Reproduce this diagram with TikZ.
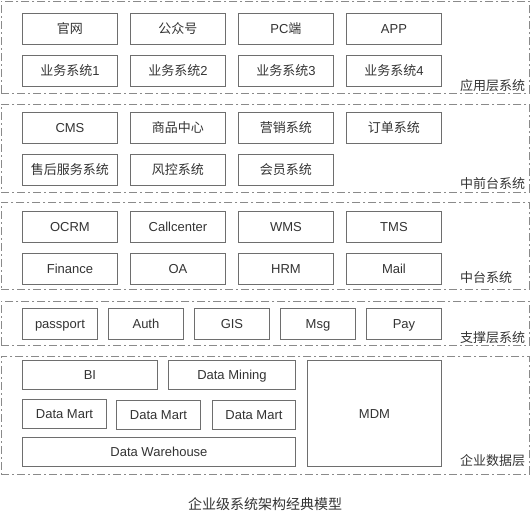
\documentclass[tikz,border=0pt]{standalone}
\usepackage{fontspec}
\setmainfont{Liberation Sans}
\newfontfamily\cjk{Noto Sans CJK SC}
\newcommand{\zh}[1]{{\cjk #1}}
\definecolor{txt}{HTML}{333333}
\definecolor{bord}{HTML}{6E6E6E}
\definecolor{dashc}{HTML}{8A8A8A}
\begin{document}
\begin{tikzpicture}[x=1pt,y=-1pt,
  box/.style={draw=bord, line width=0.9pt, rectangle, anchor=north west, inner sep=0pt,
    text=txt, font=\fontsize{13}{15}\selectfont, text height=10.5pt, text depth=1.2pt},
  wide/.style={box, minimum width=95pt, minimum height=31pt},
  small/.style={box, minimum width=75pt, minimum height=31pt},
  layer/.style={draw=dashc, line width=0.8pt, dash pattern=on 8pt off 3pt on 2pt off 3pt,
    rectangle, anchor=north west, inner sep=0pt, minimum width=528pt},
  lab/.style={anchor=west, inner sep=0pt, text=txt, font=\fontsize{13}{15}\selectfont},
]
\useasboundingbox (0,0) rectangle (530,513);
\clip (0,0) rectangle (530,513);
% layers
\node[layer, minimum height=92pt] (L1) at (1,1) {};
\node[layer, minimum height=88pt] (L2) at (1,104) {};
\node[layer, minimum height=87pt] (L3) at (1,202) {};
\node[layer, minimum height=44pt] (L4) at (1,301) {};
\node[layer, minimum height=118pt] (L5) at (1,356) {};
% layer labels
\node[lab] (t1) at (460,86) {\zh{应用层系统}};
\node[lab] (t2) at (460,183.5) {\zh{中前台系统}};
\node[lab] (t3) at (460,277.5) {\zh{中台系统}};
\node[lab] (t4) at (460,337.5) {\zh{支撑层系统}};
\node[lab] (t5) at (460,461) {\zh{企业数据层}};
% layer 1
\node[wide] (a1) at (22,13) {\zh{官网}};
\node[wide] (a2) at (130,13) {\zh{公众号}};
\node[wide] (a3) at (238,13) {PC\zh{端}};
\node[wide] (a4) at (346,13) {APP};
\node[wide] (a5) at (22,55) {\zh{业务系统}1};
\node[wide] (a6) at (130,55) {\zh{业务系统}2};
\node[wide] (a7) at (238,55) {\zh{业务系统}3};
\node[wide] (a8) at (346,55) {\zh{业务系统}4};
% layer 2
\node[wide] (b1) at (22,112) {CMS};
\node[wide] (b2) at (130,112) {\zh{商品中心}};
\node[wide] (b3) at (238,112) {\zh{营销系统}};
\node[wide] (b4) at (346,112) {\zh{订单系统}};
\node[wide] (b5) at (22,154) {\zh{售后服务系统}};
\node[wide] (b6) at (130,154) {\zh{风控系统}};
\node[wide] (b7) at (238,154) {\zh{会员系统}};
% layer 3
\node[wide] (c1) at (22,211) {OCRM};
\node[wide] (c2) at (130,211) {Callcenter};
\node[wide] (c3) at (238,211) {WMS};
\node[wide] (c4) at (346,211) {TMS};
\node[wide] (c5) at (22,253) {Finance};
\node[wide] (c6) at (130,253) {OA};
\node[wide] (c7) at (238,253) {HRM};
\node[wide] (c8) at (346,253) {Mail};
% layer 4
\node[small] (d1) at (22,308) {passport};
\node[small] (d2) at (108,308) {Auth};
\node[small] (d3) at (194,308) {GIS};
\node[small] (d4) at (280,308) {Msg};
\node[small] (d5) at (366,308) {Pay};
% layer 5
\node[box, minimum width=135pt, minimum height=29pt] (e1) at (22,360) {BI};
\node[box, minimum width=127pt, minimum height=29pt] (e2) at (168,360) {Data Mining};
\node[box, minimum width=84pt, minimum height=29pt] (e3) at (22,399) {Data Mart};
\node[box, minimum width=84pt, minimum height=29pt] (e4) at (116,400) {Data Mart};
\node[box, minimum width=83pt, minimum height=29pt] (e5) at (212,400) {Data Mart};
\node[box, minimum width=273pt, minimum height=29pt] (e6) at (22,437) {Data Warehouse};
\node[box, minimum width=134pt, minimum height=106pt] (e7) at (307,360) {MDM};
% caption
\node[anchor=center, inner sep=0pt, text=txt, font=\fontsize{14}{16}\selectfont] (cap) at (265,504) {\zh{企业级系统架构经典模型}};
\end{tikzpicture}
\end{document}
